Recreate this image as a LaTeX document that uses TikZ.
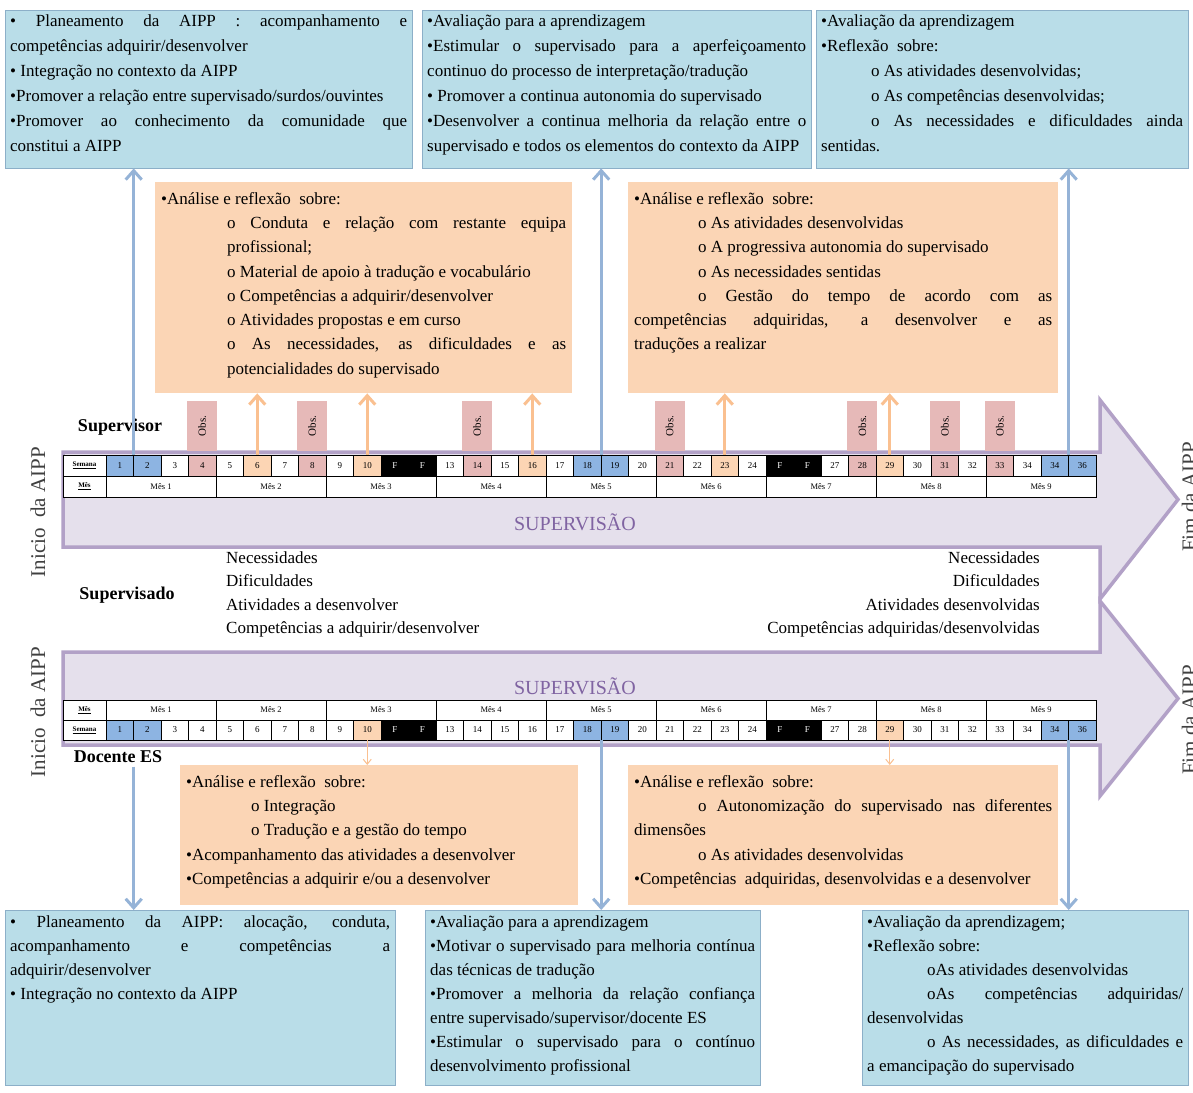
\documentclass[tikz,border=0pt]{standalone}
\usepackage{fontspec}
\setmainfont{Liberation Serif}
\usetikzlibrary{arrows.meta,positioning}

\definecolor{boxblue}{RGB}{185,221,232}
\definecolor{boxline}{RGB}{140,175,200}
\definecolor{boxorange}{RGB}{251,213,181}
\definecolor{obspink}{RGB}{230,185,184}
\definecolor{arrblue}{RGB}{149,179,215}
\definecolor{arrorange}{RGB}{250,192,144}
\definecolor{lavfill}{RGB}{229,224,236}
\definecolor{lavline}{RGB}{178,161,199}
\definecolor{cellblue}{RGB}{141,180,226}
\definecolor{cellorange}{RGB}{252,213,180}
\definecolor{cellpink}{RGB}{230,184,183}
\definecolor{suptext}{RGB}{128,100,162}
\definecolor{sidegray}{RGB}{64,64,64}

\newcommand{\boxtxt}[3]{\parbox[c][#1][t]{#2}{\tolerance=9999\hbadness=10000 #3}}
\newcommand{\subl}[2]{\par{\leftskip=#1 #2\par}}
\newcommand{\subi}[2]{\par\hspace*{#1}#2\par}
\newcommand{\fw}{\textcolor{white}{F}}

\tikzstyle{bluebox} = [rectangle, draw=boxline, fill=boxblue, anchor=north west,
    inner sep=5pt, font=\fontsize{17}{25}\selectfont]
\tikzstyle{orgbox} = [rectangle, fill=boxorange, anchor=north west,
    inner xsep=6pt, inner ysep=10pt, font=\fontsize{17}{24.3}\selectfont]
\tikzstyle{obs} = [rectangle, fill=obspink, rotate=90, minimum width=50pt,
    minimum height=30pt, inner sep=0pt, font=\fontsize{11}{11}\selectfont]
\tikzstyle{wk} = [rectangle, draw, inner sep=0pt, minimum width=27.5pt,
    minimum height=21pt, font=\fontsize{9}{9}\selectfont]
\tikzstyle{mes} = [wk, fill=white, minimum width=110pt, font=\fontsize{8.5}{8.5}\selectfont]
\tikzstyle{lbl} = [wk, fill=white, minimum width=43pt, font=\fontsize{7}{7}\selectfont\bfseries]
\tikzstyle{who} = [font=\fontsize{18}{18}\selectfont\bfseries]
\tikzstyle{side} = [rotate=90, text=sidegray, font=\fontsize{21}{21}\selectfont]
\tikzstyle{supv} = [text=suptext, font=\fontsize{20}{20}\selectfont]
\tikzstyle{lista} = [inner sep=0pt, font=\fontsize{17}{23.5}\selectfont]
\tikzstyle{bluearr} = [draw=arrblue, line width=3pt, -{Straight Barb[length=9pt,width=16pt]}]
\tikzstyle{orgarr} = [draw=arrorange, line width=3pt, -{Straight Barb[length=9pt,width=16pt]}]
\tikzstyle{thinarr} = [draw=arrorange, line width=1pt, -{Straight Barb[length=5pt,width=8pt]}]
\tikzstyle{lav} = [draw=lavline, fill=lavfill, line width=3.5pt, line join=miter]

\begin{document}
\begin{tikzpicture}[x=1pt,y=-1pt]

  \fill[white] (0,0) rectangle (1193,1092);
  \useasboundingbox (0,0) rectangle (1193,1092);

  % big arrows
  \draw[lav] (63,452) -- (1100,452) -- (1100,400) -- (1178,499.5) -- (1100,599)
             -- (1100,547) -- (63,547) -- cycle;
  \draw[lav] (63,652) -- (1100,652) -- (1100,601) -- (1178,698.5) -- (1100,796)
             -- (1100,745) -- (63,745) -- cycle;

  \node[supv] (sup1) at (575,522) {SUPERVISÃO};
  \node[supv] (sup2) at (575,686) {SUPERVISÃO};

  \node[side] (ini1) at (38,512) {Inicio\ \ da AIPP};
  \node[side] (ini2) at (38,712) {Inicio\ \ da AIPP};
  \node[side, anchor=south] (fim1) at (1200,497) {Fim da AIPP};
  \node[side, anchor=south] (fim2) at (1200,720) {Fim da AIPP};

  % supervisor table
  \node[lbl] (sem1) at (84.5,465.5) {\underline{Semana}};
  \node[lbl] (mes1) at (84.5,486.5) {\underline{Mês}};
  \foreach \lab/\col [count=\i] in {1/cellblue, 2/cellblue, 3/white, 4/cellpink,
      5/white, 6/cellorange, 7/white, 8/cellpink, 9/white, 10/cellorange,
      \fw/black, \fw/black, 13/white, 14/cellpink, 15/white, 16/cellorange,
      17/white, 18/cellblue, 19/cellblue, 20/white, 21/cellpink, 22/white,
      23/cellorange, 24/white, \fw/black, \fw/black, 27/white, 28/cellpink,
      29/cellorange, 30/white, 31/cellpink, 32/white, 33/cellpink, 34/white,
      34/cellblue, 36/cellblue}
    \node[wk, fill=\col] (sa\i) at ({106+27.5*(\i-0.5)},465.5) {\lab};
  \foreach \m in {1,...,9}
    \node[mes] (ma\m) at ({106+110*(\m-0.5)},486.5) {Mês \m};

  % docente table
  \node[lbl, minimum height=20pt] (mes2) at (84.5,710) {\underline{Mês}};
  \node[lbl, minimum height=20pt] (sem2) at (84.5,730) {\underline{Semana}};
  \foreach \lab/\col [count=\i] in {1/cellblue, 2/cellblue, 3/white, 4/white,
      5/white, 6/white, 7/white, 8/white, 9/white, 10/cellorange,
      \fw/black, \fw/black, 13/white, 14/white, 15/white, 16/white,
      17/white, 18/cellblue, 19/cellblue, 20/white, 21/white, 22/white,
      23/white, 24/white, \fw/black, \fw/black, 27/white, 28/white,
      29/cellorange, 30/white, 31/white, 32/white, 33/white, 34/white,
      34/cellblue, 36/cellblue}
    \node[wk, fill=\col, minimum height=20pt] (sb\i) at ({106+27.5*(\i-0.5)},730) {\lab};
  \foreach \m in {1,...,9}
    \node[mes, minimum height=20pt] (mb\m) at ({106+110*(\m-0.5)},710) {Mês \m};

  % who
  \node[who] (supr) at (120,427) {Supervisor};
  \node[who] (supd) at (127,595) {Supervisado};
  \node[who] (doce) at (118,757) {Docente ES};

  \node[lista, anchor=north west, align=left] (antes) at (226,551)
    {Necessidades\\Dificuldades\\Atividades a desenvolver\\Competências a adquirir/desenvolver};
  \node[lista, anchor=north east, align=right] (depois) at (1040,551)
    {Necessidades\\Dificuldades\\Atividades desenvolvidas\\Competências adquiridas/desenvolvidas};

  % top boxes
  \node[bluebox] (plan) at (5,10) {\boxtxt{148pt}{397pt}{%
    • Planeamento da AIPP : acompanhamento e\linebreak competências adquirir/desenvolver\par
    • Integração no contexto da AIPP\par
    •Promover a relação entre supervisado/surdos/ouvintes\par
    •Promover ao conhecimento da comunidade que\linebreak constitui a AIPP}};
  \node[bluebox] (aval) at (422,10) {\boxtxt{148pt}{379pt}{%
    •Avaliação para a aprendizagem\par
    •Estimular o supervisado para a aperfeiçoamento\linebreak continuo do processo de interpretação/tradução\par
    • Promover a continua autonomia do supervisado\par
    •Desenvolver a continua melhoria da relação entre o\linebreak supervisado e todos os elementos do contexto da AIPP}};
  \node[bluebox] (refl) at (816,10) {\boxtxt{148pt}{362pt}{%
    •Avaliação da aprendizagem\par
    •Reflexão\ \ sobre:
    \subi{50pt}{o As atividades desenvolvidas;}
    \subi{50pt}{o As competências desenvolvidas;}
    \subi{50pt}{o As necessidades e dificuldades ainda\linebreak sentidas.}}};

  % supervisor reflection boxes
  \node[orgbox] (anal) at (155,182) {\boxtxt{191pt}{405pt}{%
    •Análise e reflexão\ \ sobre:
    \subl{66pt}{o Conduta e relação com restante equipa\linebreak profissional;}
    \subl{66pt}{o Material de apoio à tradução e vocabulário}
    \subl{66pt}{o Competências a adquirir/desenvolver}
    \subl{66pt}{o Atividades propostas e em curso}
    \subl{66pt}{o As necessidades, as dificuldades e as\linebreak potencialidades do supervisado}}};
  \node[orgbox] (prog) at (628,182) {\boxtxt{191pt}{418pt}{%
    •Análise e reflexão\ \ sobre:
    \subi{64pt}{o As atividades desenvolvidas}
    \subi{64pt}{o A progressiva autonomia do supervisado}
    \subi{64pt}{o As necessidades sentidas}
    \subi{64pt}{o Gestão do tempo de acordo com as\linebreak competências adquiridas, a desenvolver e as\linebreak traduções a realizar}}};

  \foreach \w in {4,8,14,21,28,31,33}
    \node[obs] (obs\w) at ([yshift=29pt]sa\w.north) {Obs.};

  \foreach \w in {6,10,16}
    \draw[orgarr] (sa\w.north) -- (sa\w.north |- anal.south);
  \foreach \w in {23,29}
    \draw[orgarr] (sa\w.north) -- (sa\w.north |- prog.south);

  \draw[bluearr] (sa1.north east) -- (sa1.north east |- plan.south);
  \draw[bluearr] (sa18.north east) -- (sa18.north east |- aval.south);
  \draw[bluearr] (sa35.north east) -- (sa35.north east |- refl.south);

  % docente boxes
  \node[orgbox] (anal3) at (180,765) {\boxtxt{120pt}{386pt}{%
    •Análise e reflexão\ \ sobre:
    \subl{65pt}{o Integração}
    \subl{65pt}{o Tradução e a gestão do tempo}
    •Acompanhamento das atividades a desenvolver\par
    •Competências a adquirir e/ou a desenvolver}};
  \node[orgbox] (auto) at (628,765) {\boxtxt{120pt}{418pt}{%
    •Análise e reflexão\ \ sobre:
    \subi{64pt}{o Autonomização do supervisado nas diferentes\linebreak dimensões}
    \subi{64pt}{o As atividades desenvolvidas}
    •Competências\ \ adquiridas, desenvolvidas e a desenvolver}};

  \node[bluebox, font=\fontsize{17}{24}\selectfont] (planb) at (5,910) {\boxtxt{165pt}{380pt}{%
    • Planeamento da AIPP: alocação, conduta,\linebreak acompanhamento e competências a\linebreak adquirir/desenvolver\par
    • Integração no contexto da AIPP}};
  \node[bluebox, font=\fontsize{17}{24}\selectfont] (avalb) at (425,910) {\boxtxt{165pt}{325pt}{%
    •Avaliação para a aprendizagem\par
    •Motivar o supervisado para melhoria contínua\linebreak das técnicas de tradução\par
    •Promover a melhoria da relação confiança\linebreak entre supervisado/supervisor/docente ES\par
    •Estimular o supervisado para o contínuo\linebreak desenvolvimento profissional}};
  \node[bluebox, font=\fontsize{17}{24}\selectfont] (reflb) at (862,910) {\boxtxt{165pt}{316pt}{%
    •Avaliação da aprendizagem;\par
    •Reflexão sobre:
    \subi{60pt}{oAs atividades desenvolvidas}
    \subi{60pt}{oAs competências adquiridas/\linebreak desenvolvidas}
    \subi{60pt}{o As necessidades, as dificuldades e\linebreak a emancipação do supervisado}}};

  \foreach \w in {10}
    \draw[thinarr] (sb\w.south) -- (sb\w.south |- anal3.north);
  \foreach \w in {29}
    \draw[thinarr] (sb\w.south) -- (sb\w.south |- auto.north);

  \draw[bluearr] (sb1.south east |- doce.south) -- (sb1.south east |- planb.north);
  \draw[bluearr] (sb18.south east) -- (sb18.south east |- avalb.north);
  \draw[bluearr] (sb35.south east) -- (sb35.south east |- reflb.north);

\end{tikzpicture}
\end{document}
